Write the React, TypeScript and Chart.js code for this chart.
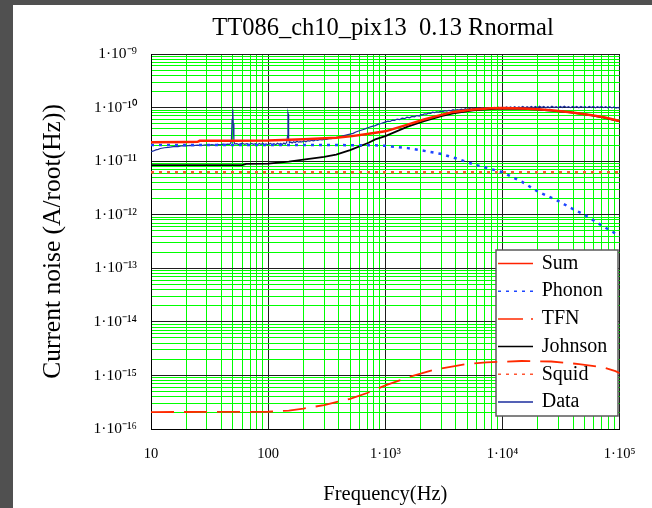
import React, { useEffect, useRef } from 'react';
import { Chart, registerables } from 'chart.js';

Chart.register(...registerables);

const CHART_TITLE = 'TT086_ch10_pix13  0.13 Rnormal';
const X_TITLE = 'Frequency(Hz)';
const Y_TITLE = 'Current noise (A/root(Hz))';

const xDecades = [10, 100, 1000, 10000, 100000];
const xTickLabels = ['10', '100', '1·10³', '1·10⁴', '1·10⁵'];
const yDecades = [1e-16, 1e-15, 1e-14, 1e-13, 1e-12, 1e-11, 1e-10, 1e-9];
const yTickLabels = ['1·10⁻¹⁶', '1·10⁻¹⁵', '1·10⁻¹⁴', '1·10⁻¹³', '1·10⁻¹²', '1·10⁻¹¹', '1·10⁻¹⁰', '1·10⁻⁹'];
const minorMultipliers = [2, 3, 4, 5, 6, 7, 8, 9];

const seriesLabels = ['Sum', 'Phonon', 'TFN', 'Johnson', 'Squid', 'Data'];

const sumFreq = [10, 20, 25, 26, 50, 100, 200, 380, 500, 700, 1000, 1500, 2140, 3000, 3800, 5600, 8000, 10000, 15000, 20000, 26000, 38000, 56000, 75000, 100000];
const sumVals = [2.26e-11, 2.28e-11, 2.3e-11, 2.4e-11, 2.4e-11, 2.42e-11, 2.55e-11, 2.74e-11, 2.9e-11, 3.2e-11, 3.6e-11, 4.7e-11, 6.0e-11, 7.3e-11, 8.3e-11, 9.2e-11, 9.7e-11, 9.8e-11, 9.6e-11, 9.3e-11, 8.9e-11, 8.2e-11, 7.3e-11, 6.5e-11, 5.6e-11];

const phononFreq = [10, 100, 500, 820, 1000, 1550, 2000, 2960, 4050, 5600, 7500, 10000, 14700, 20000, 30000, 38000, 50000, 72000, 100000];
const phononVals = [2.0e-11, 2.0e-11, 1.99e-11, 1.97e-11, 1.93e-11, 1.75e-11, 1.6e-11, 1.37e-11, 1.12e-11, 8.8e-12, 7.4e-12, 6.2e-12, 4.1e-12, 2.7e-12, 1.8e-12, 1.35e-12, 1.0e-12, 6.1e-13, 4.0e-13];

const tfnFreq = [10, 100, 150, 200, 300, 500, 700, 1000, 1660, 2600, 3800, 5100, 7300, 14500, 26000, 45000, 73000, 92000, 100000];
const tfnVals = [2.07e-16, 2.1e-16, 2.2e-16, 2.4e-16, 2.8e-16, 3.66e-16, 4.7e-16, 6.5e-16, 9.6e-16, 1.28e-15, 1.47e-15, 1.65e-15, 1.75e-15, 1.86e-15, 1.82e-15, 1.63e-15, 1.41e-15, 1.2e-15, 1.1e-15];

const johnsonFreq = [10, 60, 65, 100, 150, 200, 300, 380, 500, 720, 820, 1000, 1550, 2140, 3000, 3800, 5600, 8000, 10000, 15000, 20000, 26000, 38000, 56000, 75000, 100000];
const johnsonVals = [8.4e-12, 8.4e-12, 8.9e-12, 9.0e-12, 9.8e-12, 1.07e-11, 1.2e-11, 1.33e-11, 1.6e-11, 2.2e-11, 2.55e-11, 2.93e-11, 4.4e-11, 5.6e-11, 6.9e-11, 7.8e-11, 8.9e-11, 9.4e-11, 9.6e-11, 9.5e-11, 9.2e-11, 8.8e-11, 8.1e-11, 7.2e-11, 6.4e-11, 5.5e-11];

const squidFreq = [10, 100000];
const squidVals = [6.2e-12, 6.2e-12];

const dataFreq = [
  10, 10.5, 11, 11.5, 12, 13, 14, 15, 16, 17, 18, 19, 20, 21.5, 23, 25, 27, 29, 31, 33, 35, 37, 39, 41, 43, 45, 47,
  48.5, 49.2, 49.6, 50, 50.4, 51, 52, 54, 56, 58, 60, 63, 66, 69, 72, 75, 78, 81, 84, 87, 90, 93, 96, 100,
  104, 108, 112, 116, 120, 124, 128, 132, 136, 140, 144, 146.5, 147.5, 148.5, 149.5, 152, 156, 160, 165, 170,
  176, 182, 188, 195, 202, 210, 218, 226, 235, 245, 255, 265, 276, 288, 300, 315, 330, 345, 360, 380, 400, 420,
  445, 470, 500, 530, 560, 600, 640, 680, 720, 770, 820, 870, 920, 980,
  1050, 1100, 1150, 1200, 1260, 1320, 1390, 1460, 1530, 1610, 1690, 1770, 1860, 1950,
  2000, 2080, 2160, 2250, 2340, 2430, 2530, 2630, 2740, 2850, 2970, 3090, 3220, 3350, 3490, 3630, 3780, 3940,
  4100, 4270, 4450, 4630, 4820, 5020, 5230, 5440, 5670, 5900, 6140, 6400, 6660, 6940, 7220, 7520, 7830, 8150,
  8490, 8840, 9200, 9580, 9980, 10400, 10800, 11300, 11700, 12200, 12700, 13200, 13800, 14300, 14900, 15600,
  16200, 16900, 17600, 18300, 19100, 19900, 20700, 21600, 22500, 23400, 24400, 25400, 26400, 27500, 28700,
  29900, 31100, 32400, 33700, 35100, 36600, 38100, 39700, 41300, 43000, 44800, 46700, 48600, 50600, 52700,
  54900, 57200, 59500, 62000, 64600, 67200, 70000, 72900, 75900, 79100, 82300, 85800, 89300, 93000, 96800, 100000,
];
const dataVals = [
  1.50e-11, 1.55e-11, 1.62e-11, 1.66e-11, 1.72e-11, 1.78e-11, 1.80e-11, 1.85e-11, 1.88e-11, 1.86e-11, 1.92e-11, 1.95e-11, 1.93e-11, 1.97e-11, 1.95e-11, 1.99e-11, 1.96e-11, 2.02e-11, 1.98e-11, 2.04e-11, 2.00e-11, 2.06e-11, 2.02e-11, 2.08e-11, 2.03e-11, 2.07e-11, 2.05e-11,
  2.3e-11, 6.0e-11, 9.3e-11, 9.0e-11, 5.0e-11, 2.3e-11, 2.08e-11, 2.12e-11, 2.04e-11, 2.10e-11, 2.16e-11, 2.05e-11, 2.12e-11, 2.02e-11, 2.14e-11, 2.06e-11, 2.11e-11, 2.01e-11, 2.13e-11, 2.04e-11, 2.15e-11, 2.03e-11, 2.10e-11, 2.02e-11,
  2.14e-11, 2.05e-11, 2.12e-11, 2.03e-11, 2.16e-11, 2.06e-11, 2.13e-11, 2.04e-11, 2.18e-11, 2.08e-11, 2.25e-11, 3.0e-11, 8.0e-11, 7.5e-11, 2.6e-11, 2.20e-11, 2.28e-11, 2.18e-11, 2.30e-11, 2.22e-11,
  2.35e-11, 2.26e-11, 2.32e-11, 2.28e-11, 2.38e-11, 2.30e-11, 2.42e-11, 2.36e-11, 2.45e-11, 2.40e-11, 2.50e-11, 2.44e-11, 2.54e-11, 2.50e-11, 2.55e-11, 2.55e-11, 2.62e-11, 2.62e-11, 2.70e-11, 2.75e-11, 2.80e-11, 2.90e-11,
  3.00e-11, 3.10e-11, 3.20e-11, 3.30e-11, 3.50e-11, 3.70e-11, 3.85e-11, 4.05e-11, 4.25e-11, 4.45e-11, 4.60e-11, 4.90e-11, 5.05e-11, 5.30e-11,
  5.60e-11, 5.50e-11, 5.85e-11, 5.75e-11, 6.10e-11, 5.95e-11, 6.35e-11, 6.20e-11, 6.60e-11, 6.45e-11, 6.85e-11, 6.70e-11, 7.10e-11, 6.95e-11,
  7.40e-11, 7.30e-11, 7.65e-11, 7.55e-11, 7.90e-11, 7.80e-11, 8.20e-11, 8.05e-11, 8.35e-11, 8.20e-11, 8.55e-11, 8.40e-11, 8.75e-11, 8.55e-11, 8.90e-11, 8.70e-11, 9.10e-11, 8.85e-11,
  9.20e-11, 9.00e-11, 9.35e-11, 9.10e-11, 9.50e-11, 9.20e-11, 9.60e-11, 9.30e-11, 9.70e-11, 9.35e-11, 9.75e-11, 9.40e-11, 9.85e-11, 9.50e-11, 9.90e-11, 9.55e-11, 1.00e-10, 9.60e-11,
  1.01e-10, 9.65e-11, 1.02e-10, 9.70e-11, 1.015e-10, 9.75e-11, 1.025e-10, 9.80e-11, 1.03e-10, 9.85e-11, 1.04e-10, 9.80e-11, 1.03e-10, 9.90e-11, 1.05e-10, 9.85e-11,
  1.04e-10, 9.95e-11, 1.05e-10, 9.90e-11, 1.045e-10, 9.95e-11, 1.06e-10, 1.00e-10, 1.05e-10, 9.90e-11, 1.04e-10, 9.95e-11, 1.055e-10, 1.00e-10, 1.04e-10,
  9.90e-11, 1.05e-10, 1.00e-10, 1.06e-10, 1.005e-10, 1.04e-10, 9.95e-11, 1.05e-10, 1.00e-10, 1.045e-10, 9.90e-11, 1.05e-10, 1.005e-10, 1.04e-10, 9.95e-11,
  1.05e-10, 1.00e-10, 1.045e-10, 9.90e-11, 1.04e-10, 1.00e-10, 1.05e-10, 9.95e-11, 1.035e-10, 9.90e-11, 1.04e-10, 9.85e-11, 1.03e-10, 9.80e-11, 1.01e-10, 9.60e-11,
];

const FONT = 'Liberation Serif';
const X_TICK_SIZE = 14.5;
const Y_TICK_SIZE = 15.5;

const isDecade = (v: number) => {
  const l = Math.log10(v);
  return Math.abs(l - Math.round(l)) < 1e-6;
};

const gridValues = (decades: number[]) => {
  const out: number[] = [];
  decades.forEach((d, i) => {
    out.push(d);
    if (i < decades.length - 1) minorMultipliers.forEach((m) => out.push(m * d));
  });
  return out;
};

const labelFor = (v: number, decades: number[], labels: string[]) => {
  const idx = decades.findIndex((d) => Math.abs(Math.log10(d) - Math.log10(v)) < 1e-6);
  return idx >= 0 ? labels[idx] : '';
};

const pts = (xs: number[], ys: number[]) => xs.map((x, i) => ({ x, y: ys[i] }));

const legendDash: number[][] = [[], [3, 5], [25, 8], [], [3, 5], []];

const boxLegend = {
  id: 'boxLegend',
  beforeDatasetsDraw(chart: any) {
    const ctx = chart.ctx as CanvasRenderingContext2D;
    ctx.save();
    const bx = 483, by = 245, bw = 122, bh = 166;
    ctx.fillStyle = '#ffffff';
    ctx.fillRect(bx, by, bw, bh);
    ctx.strokeStyle = '#5a5a5a';
    ctx.lineWidth = 1.5;
    ctx.setLineDash([]);
    ctx.strokeRect(bx, by, bw, bh);
    chart.data.datasets.forEach((ds: any, i: number) => {
      const ry = 258.5 + i * 27.7;
      ctx.beginPath();
      ctx.setLineDash(legendDash[i]);
      ctx.strokeStyle = ds.borderColor;
      ctx.lineWidth = 1.5;
      ctx.moveTo(485, ry);
      ctx.lineTo(520, ry);
      ctx.stroke();
      ctx.setLineDash([]);
      ctx.fillStyle = '#000';
      ctx.font = `20px "${FONT}"`;
      ctx.textBaseline = 'middle';
      ctx.textAlign = 'left';
      ctx.fillText(ds.label, 528.7, ry);
    });
    ctx.restore();
  },
};

const gridColor = (c: any) => (c.tick && isDecade(c.tick.value) ? '#1e1e1e' : '#00ff00');

export default function App() {
  const ref = useRef<HTMLCanvasElement | null>(null);

  useEffect(() => {
    if (!ref.current) return;
    Chart.defaults.font.family = FONT;

    // widest y label (used to right-align mirrored labels outside the axis box)
    const mctx = document.createElement('canvas').getContext('2d') as CanvasRenderingContext2D;
    mctx.font = `${Y_TICK_SIZE}px ${FONT}`;
    const widest = Math.max(...yTickLabels.map((l) => mctx.measureText(l).width));

    const chart = new Chart(ref.current, {
      type: 'line',
      data: {
        datasets: [
          { label: seriesLabels[0], data: pts(sumFreq, sumVals), borderColor: '#ff2200', borderWidth: 2.5, pointRadius: 0, tension: 0 },
          { label: seriesLabels[1], data: pts(phononFreq, phononVals), borderColor: '#1e46ff', borderWidth: 2.5, borderDash: [3, 5], pointRadius: 0, tension: 0 },
          { label: seriesLabels[2], data: pts(tfnFreq, tfnVals), borderColor: '#ff2a00', borderWidth: 1.8, borderDash: [23, 10], pointRadius: 0, tension: 0 },
          { label: seriesLabels[3], data: pts(johnsonFreq, johnsonVals), borderColor: '#000000', borderWidth: 1.8, pointRadius: 0, tension: 0 },
          { label: seriesLabels[4], data: pts(squidFreq, squidVals), borderColor: '#ff5533', borderWidth: 2.5, borderDash: [3, 5], pointRadius: 0, tension: 0 },
          { label: seriesLabels[5], data: pts(dataFreq, dataVals), borderColor: '#1b2d9e', borderWidth: 1.2, pointRadius: 0, tension: 0 },
        ],
      },
      options: {
        responsive: false,
        animation: false,
        events: [],
        layout: { padding: { left: 122, right: 21, top: 0, bottom: 0 } },
        plugins: {
          legend: { display: false },
          tooltip: { enabled: false },
          title: {
            display: true,
            text: CHART_TITLE,
            color: '#000',
            font: { family: FONT, size: 24.5, weight: 'normal' },
            padding: { top: 8.7, bottom: 10.9 },
          },
        },
        scales: {
          x: {
            type: 'logarithmic',
            min: xDecades[0],
            max: xDecades[xDecades.length - 1],
            afterBuildTicks: (s: any) => {
              s.ticks = gridValues(xDecades).map((v) => ({ value: v }));
            },
            afterFit: (s: any) => {
              s.height = 79;
            },
            ticks: {
              autoSkip: false,
              maxRotation: 0,
              minRotation: 0,
              padding: 16.5,
              color: '#000',
              font: { family: FONT, size: X_TICK_SIZE },
              callback: (v: any) => labelFor(Number(v), xDecades, xTickLabels),
            },
            grid: { color: gridColor, lineWidth: 1, drawTicks: false },
            border: { color: '#000', width: 1 },
            title: {
              display: true,
              text: X_TITLE,
              color: '#000',
              font: { family: FONT, size: 20.5 },
              padding: { top: 0, bottom: 0.9 },
            },
          },
          y: {
            type: 'logarithmic',
            min: yDecades[0],
            max: yDecades[yDecades.length - 1],
            afterBuildTicks: (s: any) => {
              s.ticks = gridValues(yDecades).map((v) => ({ value: v }));
            },
            afterFit: (s: any) => {
              s.width = 16;
            },
            ticks: {
              autoSkip: false,
              mirror: true,
              crossAlign: 'far',
              padding: -(14 + widest),
              color: '#000',
              font: { family: FONT, size: Y_TICK_SIZE },
              callback: (v: any) => labelFor(Number(v), yDecades, yTickLabels),
            },
            grid: { color: gridColor, lineWidth: 1, drawTicks: false },
            border: { color: '#000', width: 1 },
            title: {
              display: true,
              text: Y_TITLE,
              color: '#000',
              font: { family: FONT, size: 25.5 },
              padding: { top: -97.3, bottom: 0 },
            },
          },
        },
      },
      plugins: [boxLegend],
    } as any);
    return () => chart.destroy();
  }, []);

  return (
    <div style={{ position: 'fixed', left: 0, top: 0, width: 652, height: 508, background: '#505050', overflow: 'hidden' }}>
      <canvas
        ref={ref}
        width={639}
        height={503}
        style={{ position: 'absolute', left: 13, top: 5, width: 639, height: 503, background: '#ffffff' }}
      />
    </div>
  );
}
